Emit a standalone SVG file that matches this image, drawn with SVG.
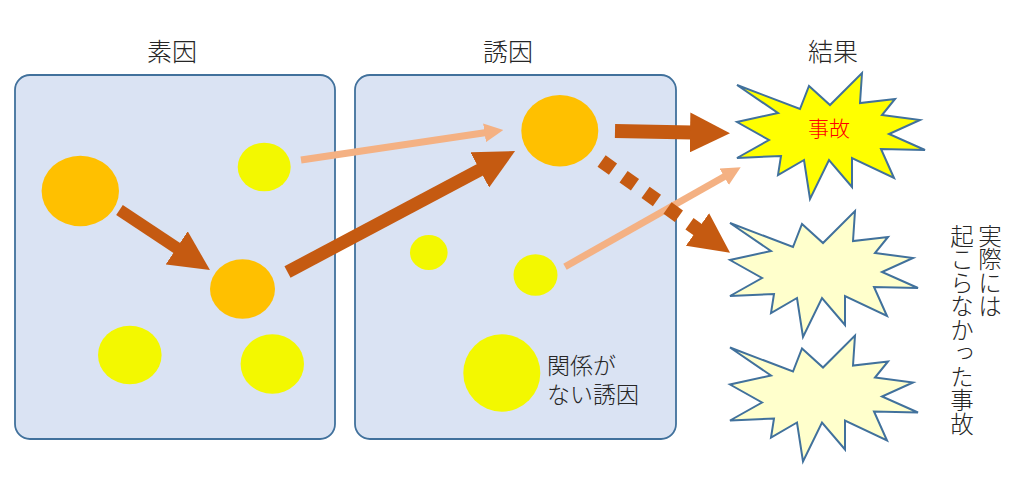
<svg xmlns="http://www.w3.org/2000/svg" xmlns:xlink="http://www.w3.org/1999/xlink" width="1026" height="486" viewBox="0 0 1026 486">
<style>
.txt{font-family:"Noto Sans CJK JP","Noto Sans CJK SC",sans-serif;fill:#262626;font-weight:300}
.title{font-size:25px;text-anchor:middle}
.box{fill:#DAE3F3;stroke:#41719C;stroke-width:1.8}
.or{fill:#FFC000}
.ye{fill:#F3F800}
.burst{stroke:#41719C;stroke-width:2;stroke-linejoin:miter}
.hit{fill:#FFFF00}
.miss{fill:#FFFFCC}
.dark{stroke:#C55A11;fill:none}
.light{stroke:#F4B183;fill:none;stroke-width:7}
.vert{font-size:23.5px;writing-mode:vertical-rl}
</style>
<defs>
<marker id="hd" markerUnits="userSpaceOnUse" markerWidth="40" markerHeight="40" refX="2" refY="20" orient="auto">
<path d="M0,0 L40,20 L0,40 Z" fill="#C55A11"/>
</marker>
<marker id="hl" markerUnits="userSpaceOnUse" markerWidth="19" markerHeight="19" refX="2" refY="9.5" orient="auto">
<path d="M0,0 L19,9.5 L0,19 Z" fill="#F4B183"/>
</marker>
<polygon id="burstShape" points="730,223 793,247 802,224 823,243 855,211 853,241 888,237 875,253 913,258 882,272 918,288 874,287 887,316 845,296 845,325 822,298 803,337 797,298 771,313 774,294 730,296 762,278 730,260 771,251"/>
</defs>

<g id="titles">
<text class="txt title" x="172" y="61">素因</text>
<text class="txt title" x="508" y="61">誘因</text>
<text class="txt title" x="833" y="61">結果</text>
</g>

<g id="box-soin">
<rect class="box" x="15" y="75" width="320" height="364" rx="15"/>
<ellipse id="s1" class="or" cx="80.3" cy="191" rx="38.7" ry="35.3"/>
<ellipse id="s2" class="ye" cx="264.2" cy="167" rx="26.5" ry="24.3"/>
<ellipse id="s3" class="or" cx="242.5" cy="289" rx="32.5" ry="29.7"/>
<ellipse id="s4" class="ye" cx="129.8" cy="355" rx="31.8" ry="29.3"/>
<ellipse id="s5" class="ye" cx="272.3" cy="364" rx="31.7" ry="29.8"/>
</g>

<g id="box-yuin">
<rect class="box" x="355" y="75" width="321" height="364" rx="15"/>
<ellipse id="y1" class="or" cx="559.8" cy="130.8" rx="38.5" ry="35.8"/>
<ellipse id="y2" class="ye" cx="428.8" cy="252.5" rx="18.8" ry="17.5"/>
<ellipse id="y3" class="ye" cx="535.5" cy="275" rx="22" ry="20.8"/>
<ellipse id="y4" class="ye" cx="501.8" cy="373" rx="38.5" ry="38.7"/>
<text class="txt" font-size="23" x="547" y="374">関係が<tspan x="547" y="403">ない誘因</tspan></text>
</g>

<g id="result-accident">
<use xlink:href="#burstShape" class="burst hit" transform="translate(7,-138)"/>
<text class="txt" font-size="21" x="829" y="136" text-anchor="middle" style="fill:#FF0000">事故</text>
</g>
<g id="result-miss1">
<use xlink:href="#burstShape" class="burst miss"/>
</g>
<g id="result-miss2">
<use xlink:href="#burstShape" class="burst miss" transform="translate(0,124.5)"/>
</g>

<g id="label-miss">
<text class="txt vert" x="990" y="224">実際には</text>
<text class="txt vert" x="962" y="224">起こらなかった事故</text>
</g>

<g id="connectors">
<line class="light" x1="301" y1="160" x2="486.5" y2="132.5" marker-end="url(#hl)"/>
<line class="dark" stroke-width="12" x1="119.5" y1="210" x2="178.3" y2="249" marker-end="url(#hd)"/>
<line class="dark" stroke-width="13" x1="287.5" y1="272" x2="481.5" y2="168.9" marker-end="url(#hd)"/>
<line class="dark" stroke-width="14" x1="615" y1="131" x2="692" y2="132.5" marker-end="url(#hd)"/>
<line class="light" x1="565" y1="266.7" x2="725.9" y2="175.7" marker-end="url(#hl)"/>
<line class="dark" stroke-width="14" stroke-dasharray="14 13" x1="601.6" y1="161" x2="699.1" y2="230.6" marker-end="url(#hd)"/>
</g>
</svg>
